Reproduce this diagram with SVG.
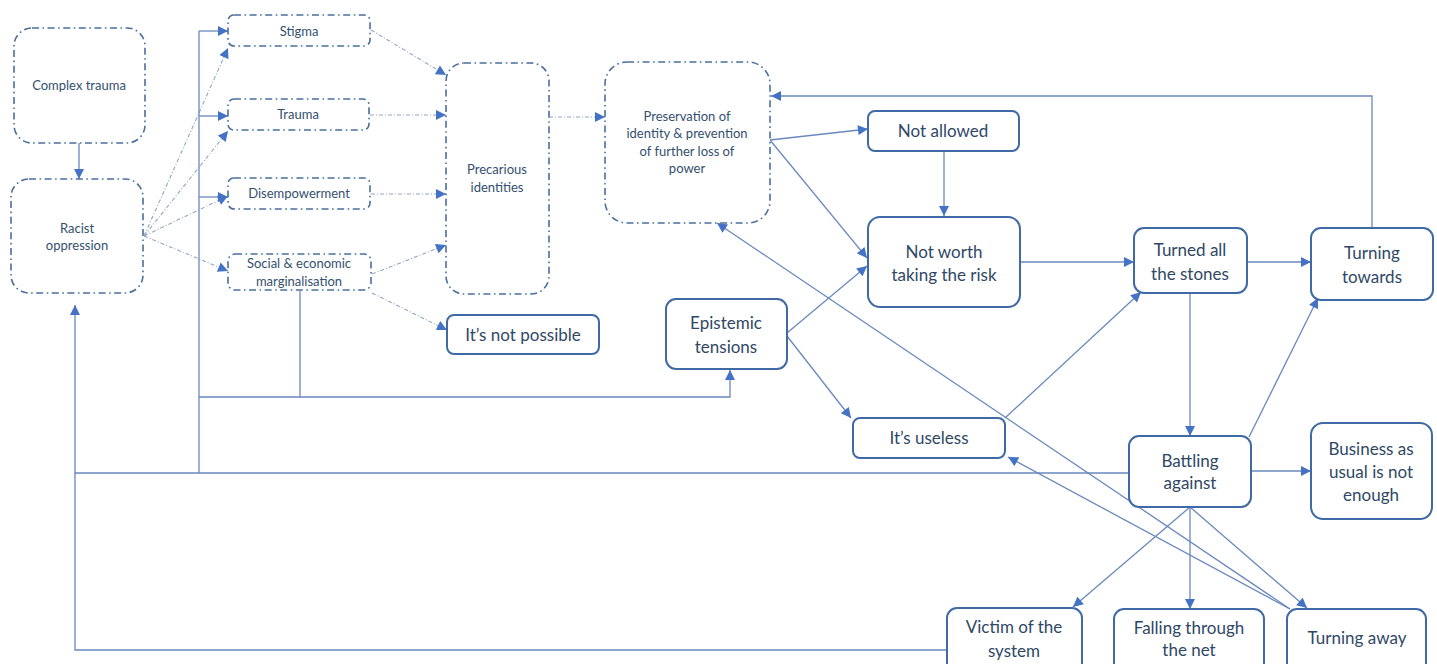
<svg xmlns="http://www.w3.org/2000/svg" width="1437" height="664" viewBox="0 0 1437 664">
<style>
.dn{fill:#fff;stroke:#4a6f9c;stroke-width:1.6;stroke-dasharray:7 3.5 1.6 3.5}
.sn{fill:#fff;stroke:#3f6aa6;stroke-width:2}
.ts{font-family:Lato,"Liberation Sans",sans-serif;font-size:13px;fill:#34506f;text-anchor:middle}
.tl{font-family:Lato,"Liberation Sans",sans-serif;font-size:17px;fill:#2f4866;text-anchor:middle}
.c{fill:none;stroke:#6a89bd;stroke-width:1.3}
.ca{fill:none;stroke:#6a89bd;stroke-width:1.3;marker-end:url(#ah)}
.d{fill:none;stroke:#94a6c2;stroke-width:1.1;stroke-dasharray:4 2 1 2;marker-end:url(#ah)}
</style>
<defs>
<marker id="ah" viewBox="0 0 10 10" refX="10" refY="5" markerWidth="11" markerHeight="10" markerUnits="userSpaceOnUse" orient="auto">
<path d="M0,0 L10,5 L0,10 z" fill="#4472c4"/>
</marker>
</defs>
<rect width="1437" height="664" fill="#fff"/>
<g id="connectors">
<line class="d" x1="144" y1="236" x2="228" y2="48"/>
<line class="d" x1="144" y1="236" x2="228" y2="131"/>
<line class="d" x1="144" y1="236" x2="228" y2="196"/>
<line class="d" x1="144" y1="236" x2="228" y2="271"/>
<line class="d" x1="371" y1="30" x2="446" y2="75"/>
<line class="d" x1="370" y1="115" x2="446" y2="115"/>
<line class="d" x1="371" y1="194" x2="446" y2="194"/>
<line class="d" x1="372" y1="274" x2="446" y2="245"/>
<line class="d" x1="372" y1="293" x2="447" y2="330"/>
<line class="d" x1="549" y1="117" x2="605" y2="117"/>
<line class="ca" x1="79" y1="143" x2="79" y2="179"/>
<polyline class="ca" points="1129,473 75,473 75,305"/>
<polyline class="c" points="947,650 75,650 75,473"/>
<polyline class="c" points="199,473 199,31"/>
<line class="ca" x1="199" y1="31" x2="228" y2="31"/>
<line class="ca" x1="199" y1="116" x2="228" y2="116"/>
<line class="ca" x1="199" y1="197" x2="228" y2="197"/>
<polyline class="ca" points="199,397 730,397 730,370"/>
<line class="c" x1="300" y1="291" x2="300" y2="397"/>
<line class="ca" x1="770" y1="140" x2="868" y2="129"/>
<line class="ca" x1="770" y1="140" x2="867" y2="258"/>
<line class="ca" x1="944" y1="151" x2="944" y2="216"/>
<line class="ca" x1="1020" y1="262" x2="1134" y2="262"/>
<line class="ca" x1="1247" y1="262" x2="1311" y2="262"/>
<polyline class="ca" points="1372,228 1372,96 771,96"/>
<line class="ca" x1="1190" y1="293" x2="1190" y2="436"/>
<line class="ca" x1="1249" y1="437" x2="1318" y2="298"/>
<line class="ca" x1="1005" y1="418" x2="1141" y2="292"/>
<line class="ca" x1="787" y1="333" x2="867" y2="266"/>
<line class="ca" x1="787" y1="336" x2="851" y2="418"/>
<line class="ca" x1="1251" y1="471" x2="1311" y2="471"/>
<line class="ca" x1="1190" y1="507" x2="1190" y2="609"/>
<line class="ca" x1="1190" y1="507" x2="1307" y2="608"/>
<line class="ca" x1="1190" y1="507" x2="1073" y2="607"/>
<line class="ca" x1="1290" y1="609" x2="1008" y2="457"/>
<line class="ca" x1="1290" y1="609" x2="717" y2="223"/>
</g>
<g id="complex-trauma"><rect class="dn" x="14" y="28" width="131" height="115" rx="18"/><text class="ts" x="79" y="89.5">Complex trauma</text></g>
<g id="racist-oppression"><rect class="dn" x="11" y="179" width="132" height="114" rx="18"/><text class="ts" x="77" y="232.5">Racist</text><text class="ts" x="77" y="249.5">oppression</text></g>
<g id="stigma"><rect class="dn" x="228" y="15" width="142" height="31" rx="6"/><text class="ts" x="299" y="35.5">Stigma</text></g>
<g id="trauma"><rect class="dn" x="228" y="99" width="141" height="31" rx="6"/><text class="ts" x="298" y="118.5">Trauma</text></g>
<g id="disempowerment"><rect class="dn" x="228" y="178" width="142" height="31" rx="6"/><text class="ts" x="299" y="197.5">Disempowerment</text></g>
<g id="social-economic"><rect class="dn" x="228" y="254" width="143" height="36" rx="7"/><text class="ts" x="299" y="267.5">Social &amp; economic</text><text class="ts" x="299" y="285.5">marginalisation</text></g>
<g id="precarious-identities"><rect class="dn" x="446" y="63" width="103" height="231" rx="18"/><text class="ts" x="497" y="173.5">Precarious</text><text class="ts" x="497" y="191.5">identities</text></g>
<g id="preservation"><rect class="dn" x="605" y="62" width="165" height="161" rx="22"/><text class="ts" x="687" y="120.5">Preservation of</text><text class="ts" x="687" y="138">identity &amp; prevention</text><text class="ts" x="687" y="155.5">of further loss of</text><text class="ts" x="687" y="173">power</text></g>
<g id="not-possible"><rect class="sn" x="447" y="315" width="152" height="39" rx="7"/><text class="tl" x="523" y="341">It’s not possible</text></g>
<g id="epistemic-tensions"><rect class="sn" x="666" y="299" width="121" height="70" rx="10"/><text class="tl" x="726" y="329">Epistemic</text><text class="tl" x="726" y="353">tensions</text></g>
<g id="not-allowed"><rect class="sn" x="868" y="111" width="151" height="40" rx="7"/><text class="tl" x="943" y="137">Not allowed</text></g>
<g id="not-worth"><rect class="sn" x="868" y="217" width="152" height="90" rx="12"/><text class="tl" x="944" y="258">Not worth</text><text class="tl" x="944" y="281">taking the risk</text></g>
<g id="its-useless"><rect class="sn" x="853" y="418" width="152" height="40" rx="7"/><text class="tl" x="929" y="444">It’s useless</text></g>
<g id="turned-all-stones"><rect class="sn" x="1134" y="228" width="113" height="65" rx="10"/><text class="tl" x="1190" y="256">Turned all</text><text class="tl" x="1190" y="280">the stones</text></g>
<g id="turning-towards"><rect class="sn" x="1311" y="228" width="122" height="72" rx="10"/><text class="tl" x="1372" y="259">Turning</text><text class="tl" x="1372" y="283">towards</text></g>
<g id="battling-against"><rect class="sn" x="1129" y="436" width="122" height="71" rx="10"/><text class="tl" x="1190" y="467">Battling</text><text class="tl" x="1190" y="489">against</text></g>
<g id="business-as-usual"><rect class="sn" x="1311" y="423" width="121" height="96" rx="12"/><text class="tl" x="1371" y="455">Business as</text><text class="tl" x="1371" y="478">usual is not</text><text class="tl" x="1371" y="501">enough</text></g>
<g id="victim-of-system"><rect class="sn" x="947" y="608" width="135" height="66" rx="10"/><text class="tl" x="1014" y="633">Victim of the</text><text class="tl" x="1014" y="657">system</text></g>
<g id="falling-through"><rect class="sn" x="1114" y="609" width="150" height="65" rx="10"/><text class="tl" x="1189" y="634">Falling through</text><text class="tl" x="1189" y="656">the net</text></g>
<g id="turning-away"><rect class="sn" x="1287" y="609" width="139" height="65" rx="10"/><text class="tl" x="1357" y="644">Turning away</text></g>
</svg>
